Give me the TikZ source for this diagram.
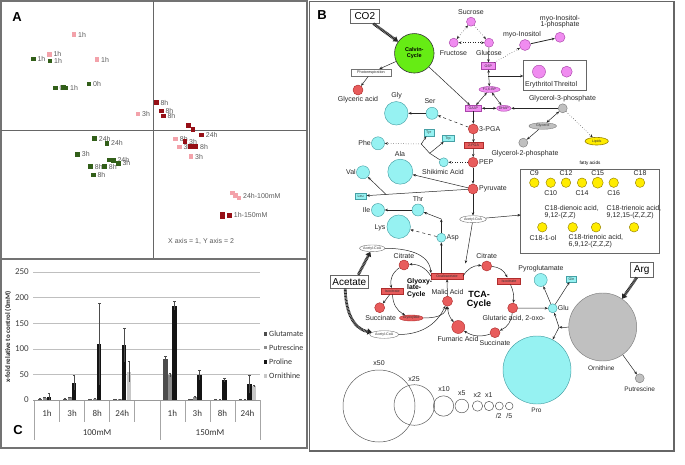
\documentclass[tikz,border=0pt]{standalone}
\usepackage{fontspec}
\setmainfont{Liberation Sans}
\newfontfamily\calib{Carlito}
\usetikzlibrary{arrows.meta,shapes.geometric,shadows,calc}
\newcommand\myfs[1]{\fontsize{#1}{#1}\selectfont}
\definecolor{pinkF}{RGB}{240,140,240}
\definecolor{pinkD}{RGB}{170,70,170}
\definecolor{redF}{RGB}{232,92,92}
\definecolor{redD}{RGB}{175,45,45}
\definecolor{cyanF}{RGB}{150,242,242}
\definecolor{cyanD}{RGB}{70,160,165}
\definecolor{grayF}{RGB}{192,192,192}
\definecolor{grayD}{RGB}{125,125,125}
\definecolor{yelF}{RGB}{255,236,0}
\definecolor{yelD}{RGB}{150,130,0}
\definecolor{calvF}{RGB}{102,236,20}
\definecolor{pA}{RGB}{243,162,170}
\definecolor{gA}{RGB}{50,95,25}
\definecolor{rA}{RGB}{150,15,22}
\colorlet{cb0}{black!70}
\colorlet{cb1}{black!45}
\colorlet{cb2}{black!92}
\colorlet{cb3}{black!22}
\tikzset{
 mc/.style={circle, inner sep=0pt, line width=0.45pt},
 pk/.style={mc, fill=pinkF, draw=pinkD},
 rd/.style={mc, fill=redF, draw=redD},
 cy/.style={mc, fill=cyanF, draw=cyanD},
 gy/.style={mc, fill=grayF, draw=grayD},
 yl/.style={mc, fill=yelF, draw=yelD},
 lb/.style={font=\myfs{7}, text=black!85, inner sep=0pt},
 tb/.style={rectangle, inner sep=0pt, line width=0.4pt, font=\myfs{3.6}, text=black!80},
 pkb/.style={tb, fill=pinkF, draw=pinkD},
 rdb/.style={tb, fill=redF, draw=redD},
 cyb/.style={tb, fill=cyanF, draw=cyanD},
 el/.style={ellipse, inner sep=0pt, line width=0.4pt, font=\myfs{3.6}, text=black!80},
 shbox/.style={rectangle, draw=black!60, line width=0.7pt, fill=white, drop shadow={shadow xshift=1pt, shadow yshift=-1pt, fill=black!40, opacity=1}, font=\myfs{10}, inner sep=0pt},
 arr/.style={-{Stealth[length=3.2pt,width=2.6pt]}, line width=0.5pt, draw=black!85},
 barr/.style={{Stealth[length=3.2pt,width=2.6pt]}-{Stealth[length=3.2pt,width=2.6pt]}, line width=0.5pt, draw=black!85},
 hatcharr/.style={draw=black!85, line width=2.8pt, dash pattern=on 0.9pt off 0.55pt, -{Triangle[length=4.5pt,width=6pt]}},
 sc/.style={circle, inner sep=0pt, draw=black!65, line width=0.5pt},
 sq/.style={rectangle, inner sep=0pt, minimum size=4.6pt},
 al/.style={font=\myfs{7}, text=black!65, inner sep=0pt, anchor=west},
}
\begin{document}
\begin{tikzpicture}[x=1pt,y=-1pt]
\useasboundingbox (0,0) rectangle (685,465);
% ================= Panel A =================
\draw[black!55, line width=1.2pt] (1,1) rectangle (307,259);
\draw[black!60, line width=0.8pt] (153.5,1) -- (153.5,259);
\draw[black!60, line width=0.8pt] (1,130) -- (307,130);
\node[font=\bfseries\myfs{13}] (labA) at (17,17) {A};
\foreach \c/\x/\y/\t in {
 gA/33.3/59/1h, gA/50/61/1h, gA/55.3/88/0h, gA/66/88/1h, gA/89/84/0h,
 gA/94.7/138.7/24h, gA/107/143.3/24h, gA/77.7/154.3/3h, gA/113.3/160.3/24h,
 gA/118.3/163.3/3h, gA/90.7/166.7/8h, gA/104.7/166.7/8h, gA/93.3/175/8h,
 pA/74/34.7/1h, pA/49.3/54.3/1h, pA/97/59.7/1h, pA/138/114/3h, pA/175.7/139/8h,
 pA/179.3/147/3h, pA/191/156.7/3h, pA/239/196/24h-100mM,
 rA/156.3/102.7/8h, rA/161.3/111/8h, rA/163.3/116/8h, rA/201.7/135/24h,
 rA/185/141.7/3h, rA/196/146.7/8h, rA/229.7/215.3/1h-150mM}
 {\node[al] at (\x+4,\y) {\t};}
\foreach \c/\x/\y in {
 gA/33.3/59, gA/50/61, gA/55.3/88, gA/63.3/87.3, gA/66/88, gA/89/84,
 gA/94.7/138.7, gA/107/143.3, gA/77.7/154.3, gA/109.3/160, gA/113.3/160.3,
 gA/118.3/163.3, gA/90.7/166.7, gA/104.7/166.7, gA/93.3/175,
 pA/74/34.7, pA/49.3/54.3, pA/97/59.7, pA/138/114, pA/175.7/139,
 pA/179.3/147, pA/191/156.7, pA/232.7/193, pA/235.7/195.7, pA/239/198,
 rA/156.3/102.7, rA/161.3/111, rA/163.3/116, rA/188.3/125.7, rA/193/129.3,
 rA/201.7/135, rA/185/141.7, rA/190.7/146.7, rA/193.3/146.7, rA/196/146.7,
 rA/229.7/215.3}
 {\node[sq, fill=\c] at (\x,\y) {};}
\fill[rA] (220.3,211.7) rectangle (225,219.3);
\node[al] (axes) at (168,241) {X axis = 1, Y axis = 2};
% ================= Panel C =================
\draw[black!55, line width=1.2pt] (1,259) rectangle (307,448);
\node[font=\bfseries\myfs{13}] (labC) at (18,430) {C};
\foreach \v in {50,100,150,200,250}
 \draw[black!25, line width=0.4pt] (33,{400-0.512*\v}) -- (260,{400-0.512*\v});
\foreach \v in {0,50,100,150,200,250}
 \node[anchor=east, inner sep=0pt, text=black!75, font=\calib\myfs{9}] at (29,{400-0.512*\v}) {\v};
\foreach \k in {1,2,3,4,6,7,8}
 \draw[black!35, line width=0.5pt] ({34.5+25.06*\k},400) -- ++(0,21.7);
\foreach \k in {0,5,9}
 \draw[black!35, line width=0.5pt] ({34.5+25.06*\k},400) -- ++(0,40);
\foreach \k/\t in {0/1h,1/3h,2/8h,3/24h,5/1h,6/3h,7/8h,8/24h}
 \node[font=\calib\myfs{9}, text=black!80] at ({34.5+25.06*\k+12.53},413) {\t};
\node[font=\calib\myfs{9}, text=black!80] (g100) at (97.1,433) {100mM};
\node[font=\calib\myfs{9}, text=black!80] (g150) at (210,433) {150mM};
\foreach \k/\i/\v/\lo/\hi in {
 0/0/2/1/3, 0/1/4/3/5, 0/2/6/0/14,
 1/0/2/1/3, 1/1/5/4/6, 1/2/34/19/49,
 2/0/1/0.5/1.5, 2/1/2/1.5/3, 2/2/110/30/190,
 3/0/1/0.5/1.5, 3/1/1.5/1/2, 3/2/107/74/140, 3/3/55/35/75,
 5/0/81/77/85, 5/1/48/44/52, 5/2/184/175/193,
 6/0/1.5/1/2, 6/1/5/4/7, 6/2/49/39/59,
 7/0/0.5/0.3/0.7, 7/1/0.8/0.5/1, 7/2/39/35/43,
 8/0/0.5/0.3/0.7, 8/1/0.8/0.5/1, 8/2/31/13/49, 8/3/27/26/28}
{
 \pgfmathsetmacro\xa{34.5+25.06*\k+3.5+4.5*\i}
 \fill[cb\i] (\xa,400) rectangle ({\xa+4.3},{400-0.512*\v});
 \draw[black!70, line width=0.35pt] ({\xa+2.15},{400-0.512*\lo}) -- ({\xa+2.15},{400-0.512*\hi});
 \draw[black!70, line width=0.35pt] ({\xa+0.9},{400-0.512*\hi}) -- ({\xa+3.4},{400-0.512*\hi});
}
\draw[black!40, line width=0.6pt] (33,400) -- (260,400);
\foreach \i/\t/\yy in {0/Glutamate/334,1/Putrescine/347.5,2/Proline/362,3/Ornithine/376}
{
 \fill[cb\i] (263.5,\yy-1.8) rectangle (267.1,\yy+1.8);
 \node[anchor=west, font=\calib\myfs{8}, text=black!80, inner sep=0pt] at (269,\yy) {\t};
}
\node[rotate=90, font=\calib\bfseries\myfs{7}, text=black!85] (ylab) at (8,337) {x-fold relative to control (0mM)};
% ================= Panel B =================
\draw[black!60, line width=1.2pt] (309.5,1.5) rectangle (674,451);
\node[font=\bfseries\myfs{13}] (labB) at (322,15) {B};
\node[draw=black!60, line width=0.5pt, minimum width=63.4pt, minimum height=29.3pt, inner sep=0pt] (erybox) at (555,75.35) {};
\node[draw=black!60, line width=0.5pt, minimum width=138.3pt, minimum height=84.3pt, inner sep=0pt] (fabox) at (589.85,211.15) {};
\node[font=\myfs{4.6}, inner sep=0pt] (falbl) at (590,163.3) {fatty acids};
% Calvin / CO2
\node[shbox, minimum width=28.3pt, minimum height=14pt] (co2) at (364.8,16.3) {CO2};
\node[mc, fill=calvF, draw=black!80, line width=0.6pt, minimum size=39.5pt, font=\bfseries\myfs{5.5}, align=center] (calvin) at (414.3,53.3) {Calvin-\\Cycle};
\node[tb, draw=black!55, fill=white, minimum width=40pt, minimum height=7pt, font=\myfs{3.8}] (photo) at (371,72.7) {Photorespiration};
\node[rd, minimum size=10pt] (glyca) at (358,90) {};
\node[lb] (glycalbl) at (358,100) {Glyceric acid};
% sugars
\node[pk, minimum size=9pt] (suc) at (471,21.7) {};
\node[lb] (suclbl) at (471,12) {Sucrose};
\node[pk, minimum size=9pt] (fru) at (453.7,42.7) {};
\node[lb] (frulbl) at (453.5,53) {Fructose};
\node[pk, minimum size=9pt] (glc) at (489,42.7) {};
\node[lb] (glclbl) at (489,53) {Glucose};
\node[pkb, minimum width=13.3pt, minimum height=6.6pt] (g6p) at (488.3,66) {G6P};
\node[el, fill=pinkF, draw=pinkD, minimum width=21pt, minimum height=6pt] (f16) at (489.5,89.5) {F1,6-BP};
\node[pkb, minimum width=16.7pt, minimum height=6pt] (ga3p) at (473.3,108.3) {GA3P};
\node[el, fill=pinkF, draw=pinkD, minimum width=14.3pt, minimum height=6pt] (dhap) at (503.8,108.3) {DHAP};
\node[gy, minimum size=9pt] (g3p) at (562.7,108.3) {};
\node[lb] (g3plbl) at (562.5,98.3) {Glycerol-3-phosphate};
\node[pk, minimum size=11pt] (myo) at (525,45) {};
\node[lb] (myolbl) at (522,34.3) {myo-Inositol};
\node[pk, minimum size=10pt] (myo1p) at (560,37.3) {};
\node[lb, align=center] (myo1plbl) at (560,21.3) {myo-Inositol-\\[-1pt]1-phosphate};
\node[pk, minimum size=13pt] (ery) at (539,71.7) {};
\node[lb] (erylbl) at (539,84.3) {Erythritol};
\node[pk, minimum size=11pt] (thre) at (566.7,71.7) {};
\node[lb] (threlbl) at (565.5,84.3) {Threitol};
\node[el, fill=grayF, draw=grayD, minimum width=27.7pt, minimum height=6.6pt] (glycerol) at (542.7,126) {Glycerol};
\node[gy, minimum size=9pt] (g2p) at (523.3,142.7) {};
\node[lb] (g2plbl) at (525,153.3) {Glycerol-2-phosphate};
\node[el, fill=yelF, draw=yelD, line width=0.6pt, minimum width=23.3pt, minimum height=7.7pt] (lipids) at (596.7,141.2) {Lipids};
% glycolysis
\node[rd, minimum size=10pt] (pga3) at (473.3,129) {};
\node[lb, anchor=west] (pga3lbl) at (479,129) {3-PGA};
\node[rdb, minimum width=19pt, minimum height=6pt] (pga2) at (473.5,145.7) {2-PGA};
\node[rd, minimum size=10pt] (pep) at (473,162.3) {};
\node[lb, anchor=west] (peplbl) at (479,162.3) {PEP};
\node[rd, minimum size=10pt] (pyr) at (473,189) {};
\node[lb, anchor=west] (pyrlbl) at (479,189) {Pyruvate};
% amino acids
\node[cyb, minimum width=10pt, minimum height=6.7pt] (tyr) at (428.7,132.7) {Tyr};
\node[cyb, minimum width=11.4pt, minimum height=6.7pt] (trp) at (448,138.3) {Trp};
\node[cy, minimum size=13pt] (phe) at (378,143.3) {};
\node[lb, anchor=east] (phelbl) at (371,143.3) {Phe};
\node[cy, minimum size=9pt] (shik) at (443.7,162.3) {};
\node[lb] (shiklbl) at (443,172.3) {Shikimic Acid};
\node[cy, minimum size=23.5pt] (gly) at (396.3,113.3) {};
\node[lb] (glylbl) at (396.5,96) {Gly};
\node[cy, minimum size=12pt] (ser) at (432,113.3) {};
\node[lb] (serlbl) at (430,101) {Ser};
\node[cy, minimum size=25pt] (ala) at (400.3,171.7) {};
\node[lb] (alalbl) at (400,154.3) {Ala};
\node[cy, minimum size=13pt] (val) at (363,172.3) {};
\node[lb, anchor=east] (vallbl) at (356,172.3) {Val};
\node[cyb, minimum width=11.6pt, minimum height=5.7pt] (leu) at (360.5,196) {Leu};
\node[cy, minimum size=12pt] (thr) at (418,210) {};
\node[lb] (thrlbl) at (418,199.3) {Thr};
\node[cy, minimum size=13pt] (ile) at (378,210) {};
\node[lb, anchor=east] (ilelbl) at (370.5,210) {Ile};
\node[cy, minimum size=23.5pt] (lys) at (398.7,226.7) {};
\node[lb, anchor=east] (lyslbl) at (385.5,228) {Lys};
\node[cy, minimum size=9pt] (asp) at (441.3,237.7) {};
\node[lb, anchor=west] (asplbl) at (446.5,238) {Asp};
\node[el, fill=white, draw=black!55, minimum width=26.6pt, minimum height=7pt] (accoa) at (473,219.2) {Acetyl-CoA};
% TCA
\node[rdb, minimum width=31.7pt, minimum height=5.7pt] (oxa) at (447,276.2) {Oxaloacetate};
\node[rd, minimum size=10pt] (citT) at (486.7,266) {};
\node[lb] (citTlbl) at (486.7,255.7) {Citrate};
\node[rdb, minimum width=23.3pt, minimum height=6.6pt] (isoT) at (509,281) {Isocitrate};
\node[rd, minimum size=10pt] (glut) at (512.7,308) {};
\node[lb] (glutlbl) at (514,318.3) {Glutaric acid, 2-oxo-};
\node[rd, minimum size=10pt] (sucT) at (495,332.7) {};
\node[lb] (sucTlbl) at (495,343.3) {Succinate};
\node[rd, minimum size=13pt] (fum) at (458.3,327) {};
\node[lb] (fumlbl) at (458,339) {Fumaric Acid};
\node[rd, minimum size=10pt] (mal) at (447.5,301.2) {};
\node[lb] (mallbl) at (447.5,291.7) {Malic Acid};
\node[font=\bfseries\myfs{9}, align=center, inner sep=0pt] (tcalbl) at (479,299.5) {TCA-\\Cycle};
% Glu / Pro / Orn
\node[cy, minimum size=9pt] (glu) at (552.7,308.3) {};
\node[lb, anchor=west] (glulbl) at (557.7,308) {Glu};
\node[cy, minimum size=13pt] (pyro) at (540.7,280) {};
\node[lb] (pyrolbl) at (541,268.3) {Pyroglutamate};
\node[cyb, minimum width=10pt, minimum height=5.7pt] (gln) at (571.5,279) {Gln};
\node[gy, minimum size=68pt] (orn) at (602.7,327) {};
\node[lb, font=\myfs{6.5}] (ornlbl) at (601.3,368.3) {Ornithine};
\node[shbox, minimum width=23.3pt, minimum height=14.6pt] (arg) at (641.7,270) {Arg};
\node[cy, minimum size=68pt] (pro) at (537,370) {};
\node[lb, font=\myfs{6.5}] (prolbl) at (536.5,410.7) {Pro};
\node[gy, minimum size=9pt] (put) at (639.7,378.3) {};
\node[lb, font=\myfs{6.5}] (putlbl) at (639.7,389) {Putrescine};
% Glyoxylate cycle
\node[shbox, minimum width=37.3pt, minimum height=13.3pt] (acetate) at (349.3,281.7) {Acetate};
\node[el, fill=white, draw=black!55, minimum width=21.7pt, minimum height=6.7pt] (accoa1) at (372.2,248.3) {Acetyl-CoA};
\node[el, fill=white, draw=black!55, minimum width=29pt, minimum height=7.6pt] (accoa2) at (384.2,334.5) {Acetyl-CoA};
\node[rd, minimum size=10pt] (citG) at (404,265) {};
\node[lb] (citGlbl) at (404,255.7) {Citrate};
\node[rdb, minimum width=21.7pt, minimum height=6pt] (isoG) at (392.2,291.3) {Isocitrate};
\node[rd, minimum size=10pt] (sucG) at (379.7,307.7) {};
\node[lb] (sucGlbl) at (380.7,318.3) {Succinate};
\node[el, fill=redF, draw=redD, minimum width=23.3pt, minimum height=6pt] (glyox) at (411.3,318) {Glyoxylate};
\node[font=\bfseries\myfs{6.8}, align=left, anchor=west, inner sep=0pt] (glyoxlbl) at (407,288) {Glyoxy-\\[-0.5pt]late-\\[-0.5pt]Cycle};
% fatty acids
\foreach \n/\x/\s in {c9/534.3/9.5, c10/550.7/9.5, c12/566/9.5, c14/582/9.5, c15/597.7/11, c16/613.7/9.5, c18/640/9.5}
 \node[yl, minimum size=\s pt] (\n) at (\x,182.7) {};
\node[lb] (c9t) at (534.3,172.7) {C9};
\node[lb] (c12t) at (566,172.7) {C12};
\node[lb] (c15t) at (597.7,172.7) {C15};
\node[lb] (c18t) at (640,172.7) {C18};
\node[lb] (c10t) at (550.7,193.3) {C10};
\node[lb] (c14t) at (582,193.3) {C14};
\node[lb] (c16t) at (613.7,193.3) {C16};
\foreach \n/\x in {d1/542.3, d2/572.7, d3/596, d4/634}
 \node[yl, minimum size=9.5pt] (\n) at (\x,227.3) {};
\node[lb, align=left, anchor=north west] (fa1) at (544.5,205.5) {C18-dienoic acid,\\9,12-(Z,Z)};
\node[lb, align=left, anchor=north west] (fa2) at (606.5,205.5) {C18-trienoic acid,\\9,12,15-(Z,Z,Z)};
\node[lb] (fa3) at (543,238.3) {C18-1-ol};
\node[lb, align=left, anchor=north west] (fa4) at (568.5,234.5) {C18-trienoic acid,\\6,9,12-(Z,Z,Z)};
% scale circles
\node[sc, minimum size=72pt] (s50) at (379,406) {};
\node[sc, minimum size=40.6pt] (s25) at (414.3,405) {};
\node[sc, minimum size=20.4pt] (s10) at (443.5,406) {};
\node[sc, minimum size=13.6pt] (s5) at (461.8,406) {};
\node[sc, minimum size=10.4pt] (s2) at (477.5,406) {};
\node[sc, minimum size=9.4pt] (s1) at (489,406) {};
\node[sc, minimum size=8pt] (sh2) at (499.3,406) {};
\node[sc, minimum size=7.6pt] (sh5) at (509.2,406) {};
\node[lb] (t50) at (379,362.7) {x50};
\node[lb] (t25) at (414,379.3) {x25};
\node[lb] (t10) at (444,389.3) {x10};
\node[lb] (t5) at (461.7,392.7) {x5};
\node[lb] (t2) at (477.3,394.7) {x2};
\node[lb] (t1) at (488.7,394.7) {x1};
\node[lb] (th2) at (498.7,416) {/2};
\node[lb] (th5) at (509.3,416) {/5};
% ---- coordinates ----
\coordinate (g6pBr) at (488.3,76);
\coordinate (eryIn) at (523.3,76);
\coordinate (faIn) at (520.7,215);
\coordinate (valBr) at (386.3,194.7);
\coordinate (shJ) at (421.3,144);
\coordinate (shK) at (429.7,153.3);
\coordinate (aspM) at (441.3,219);
\coordinate (tcaIn) at (465.5,263.5);
\coordinate (jOrn) at (559,327.3);
% ---- edges ----
\draw[hatcharr] ([xshift=-6pt]co2.south east) -- (calvin);
\draw[arr] (calvin) -- (photo);
\draw[arr] (photo) -- (glyca);
\draw[arr] (calvin) -- (ga3p);
\draw[barr, dotted] (suc) -- (fru);
\draw[arr, dotted] (suc) -- (glc);
\draw[barr, dotted] (fru) -- (glc);
\draw[arr] (glc) -- (g6p);
\draw[arr, dotted] (g6p) -- (myo);
\draw[arr, line width=0.8pt] (myo) -- (myo1p);
\draw[barr] (g6p) -- (f16);
\draw[arr] (g6pBr) -- (eryIn);
\draw[barr] (f16) -- (ga3p);
\draw[barr] (f16) -- (dhap);
\draw[barr] (dhap) -- (ga3p);
\draw[arr] (g3p) -- (dhap);
\draw[barr] (g3p) -- (glycerol);
\draw[arr] (glycerol) -- (g2p);
\draw[arr, dotted] (g3p) -- (lipids);
\draw[arr] (ga3p) -- (pga3);
\draw[arr, dashed] (pga3) -- (ser);
\draw[arr] (ser) -- (gly);
\draw[arr] (pga3) -- (pga2);
\draw[arr] (pga2) -- (pep);
\draw[arr] (pep) -- (pyr);
\draw[arr, dotted] (pep) -- (shik);
\draw[line width=0.5pt, black!85] (shik) -- (shK) -- (shJ);
\draw[arr, dotted] (shJ) -- (phe);
\draw[arr] (shJ) -- (tyr);
\draw[arr] (shK) -- (trp);
\draw[arr] (pyr) -- (ala);
\draw[arr] (pyr) -- (leu);
\draw[arr] (valBr) -- (val);
\draw[arr] (thr) -- (ile);
\draw[arr, dashed] (asp) -- (lys);
\draw[arr] (asp) -- (aspM);
\draw[arr] (aspM) -- (thr);
\draw[arr] (pyr) -- (accoa);
\draw[arr] (accoa) -- (faIn);
\draw[arr] (accoa) -- (tcaIn);
\draw[arr] (oxa.north -| asp) -- (asp);
% TCA cycle
\draw[arr] (oxa.east) to[bend left=30] (citT);
\draw[arr] (citT) to[bend left=30] (isoT);
\draw[arr] (isoT) to[bend left=15] (glut);
\draw[arr] (glut) to[bend left=30] (sucT);
\draw[arr] (sucT) to[bend left=25] (fum);
\draw[barr] (fum) to[bend left=20] (mal);
\draw[arr] (mal) -- (oxa);
% glyoxylate cycle
\draw[arr] (oxa.west) to[bend right=30] (citG);
\draw[arr] (citG) to[bend right=35] (isoG);
\draw[arr] (isoG) -- (sucG);
\draw[arr] (isoG) to[bend right=30] (glyox);
\draw[arr] (glyox.east) to[out=0, in=-100] (mal);
\draw[arr] (accoa2.east) to[out=0, in=-115] (mal);
\draw[arr] (accoa1.east) to[out=0, in=95] (oxa.north west);
\draw[hatcharr] ([xshift=-10pt]acetate.north east) -- (accoa1);
\draw[hatcharr] ([xshift=-4pt]acetate.south) to[out=-90, in=170] (accoa2);
% Glu / Orn / Pro
\draw[arr] (glut) -- (glu);
\draw[arr] (glu) -- (pyro);
\draw[arr] (glu) -- (gln);
\draw[arr] (orn) -- (jOrn);
\draw[arr] (jOrn) -- (glu);
\draw[arr] (jOrn) -- (pro);
\draw[hatcharr] ([xshift=-5pt]arg.south) -- (orn);
\draw[arr] (orn) -- (put);
\end{tikzpicture}
\end{document}
